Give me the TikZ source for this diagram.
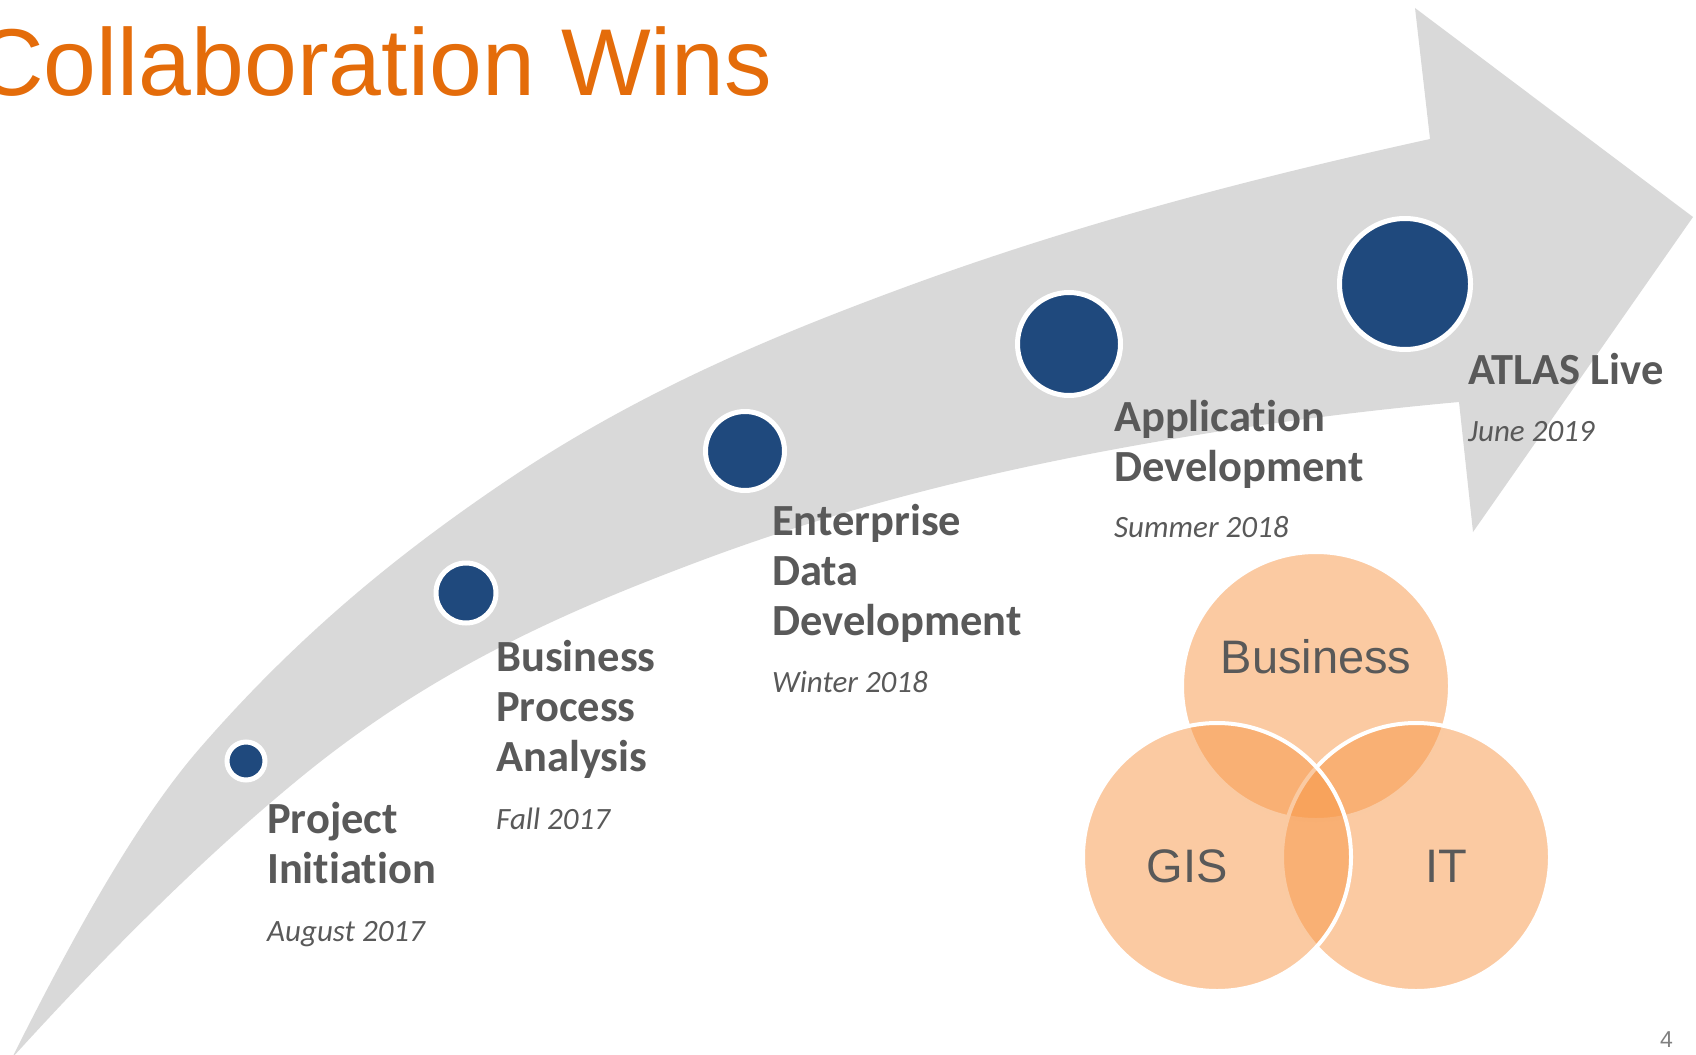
\documentclass[tikz,border=0pt]{standalone}
\usepackage{fontspec}
\setmainfont{Liberation Sans}
\newfontfamily\carlito[Ligatures={NoCommon}]{Carlito}
\newfontfamily\arialfont{Liberation Sans}
\definecolor{titleorange}{HTML}{E46C0A}
\definecolor{txtgray}{HTML}{595959}
\definecolor{navy}{HTML}{1F497D}
\definecolor{arrowgray}{HTML}{D9D9D9}
\definecolor{vennorange}{HTML}{F79646}
\definecolor{pagegray}{HTML}{808080}
\newcommand\datef{\mdseries\itshape\fontsize{31}{50}\selectfont}
\begin{document}
\begin{tikzpicture}[x=1pt,y=-1pt,
  milestone/.style={circle, fill=navy, draw=white, line width=5pt, inner sep=0pt},
  lbl/.style={anchor=base west, inner sep=0pt, text=txtgray, font=\carlito\bfseries\fontsize{44.5}{50}\selectfont},
  vennc/.style={fill=vennorange, fill opacity=0.5, draw=white, draw opacity=1, line width=4pt},
  vennlbl/.style={anchor=base, inner sep=0pt, text=txtgray, font=\arialfont\fontsize{47}{56}\selectfont}]
\useasboundingbox (0,0) rectangle (1696,1054);
\clip (0,0) rectangle (1696,1054);
% curved arrow
\fill[arrowgray] (12,1058) .. controls (74.7,932.7) and (137.3,820.1) .. (200,748)
  .. controls (300,633) and (400,553) .. (500,485)
  .. controls (633.3,394.3) and (766.7,338.3) .. (900,289)
  .. controls (1076.7,223.6) and (1253.3,177.9) .. (1430,139)
  -- (1415,8) -- (1693,217) -- (1473,532) -- (1459,402)
  .. controls (1339.3,412.8) and (1219.7,429.3) .. (1100,452)
  .. controls (966.7,477.3) and (833.3,511) .. (700,561)
  .. controls (566.7,611) and (433.3,668.7) .. (300,778)
  .. controls (204,856.7) and (108,952.4) .. (12,1058) -- cycle;
% title
\node[anchor=base west, inner sep=0pt, text=titleorange, font=\arialfont\fontsize{95}{110}\selectfont] (title) at (-25,96) {Collaboration Wins};
% milestones
\node[milestone, minimum size=38pt] (m1) at (246,761) {};
\node[milestone, minimum size=60pt] (m2) at (466,593) {};
\node[milestone, minimum size=79pt] (m3) at (745,451) {};
\node[milestone, minimum size=103pt] (m4) at (1069,344) {};
\node[milestone, minimum size=131pt] (m5) at (1405,284) {};
% labels
\node[lbl] (l1) at (267,833) {\begin{tabular}[t]{@{}l@{}}Project\\Initiation\\[8pt]\datef August 2017\end{tabular}};
\node[lbl] (l2) at (496,671) {\begin{tabular}[t]{@{}l@{}}Business\\Process\\Analysis\\[8pt]\datef Fall 2017\end{tabular}};
\node[lbl] (l3) at (772,535) {\begin{tabular}[t]{@{}l@{}}Enterprise\\Data\\Development\\[7pt]\datef Winter 2018\end{tabular}};
\node[lbl] (l4) at (1114,431) {\begin{tabular}[t]{@{}l@{}}Application\\Development\\[6pt]\datef Summer 2018\end{tabular}};
\node[lbl] (l5) at (1468,384) {\begin{tabular}[t]{@{}l@{}}ATLAS Live\\[7pt]\datef June 2019\end{tabular}};
% venn
\draw[vennc] (1316,686) circle[radius=134pt];
\draw[vennc] (1416,857) circle[radius=134pt];
\draw[vennc] (1217,857) circle[radius=134pt];
\node[vennlbl] (vb) at (1316,673) {Business};
\node[vennlbl] (vg) at (1187,882) {GIS};
\node[vennlbl] (vi) at (1446,882) {IT};
% page number
\node[anchor=base west, inner sep=0pt, text=pagegray, font=\arialfont\fontsize{23}{27}\selectfont] (pg) at (1660,1047) {4};
\end{tikzpicture}
\end{document}
